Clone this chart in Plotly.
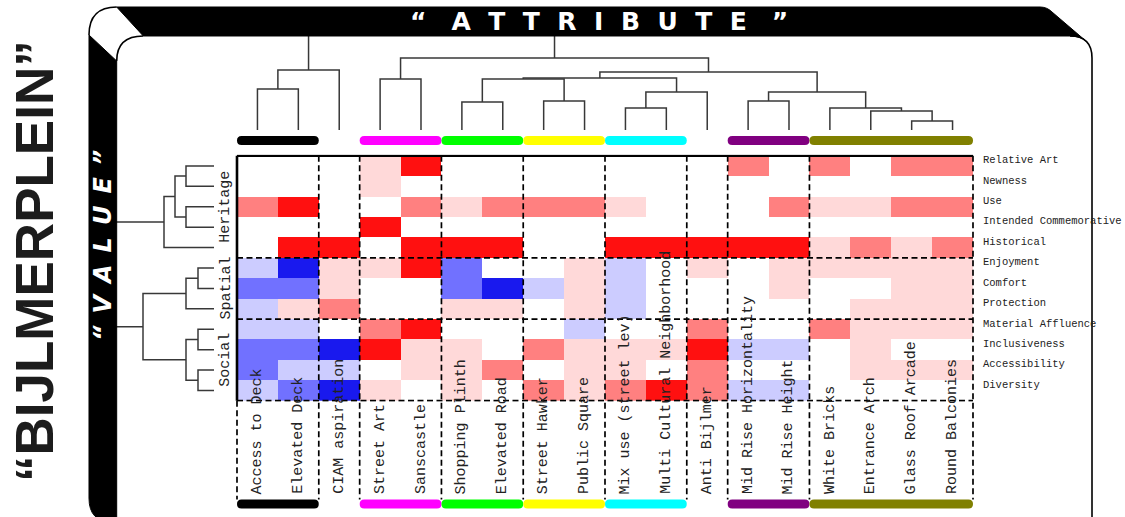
import plotly.graph_objects as go

W, H = 1125, 517

# ---------------------------------------------------------------- data
attributes = [
    "Access to Deck", "Elevated Deck", "CIAM aspiration", "Street Art", "Sanscastle",
    "Shopping Plinth", "Elevated Road", "Street Hawker", "Public Square",
    "Mix use (street lev)", "Multi Cultural Neighborhood", "Anti Bijlmer",
    "Mid Rise Horizontality", "Mid Rise Height", "White Bricks", "Entrance Arch",
    "Glass Roof Arcade", "Round Balconies",
]
values = [
    "Relative Art", "Newness", "Use", "Intended Commemorative", "Historical",
    "Enjoyment", "Comfort", "Protection", "Material Affluence", "Inclusiveness",
    "Accessibility", "Diversity",
]
# score of every value (row) for every attribute (column), -3 .. 3
scores = [
    [0, 0, 0, 1, 3, 0, 0, 0, 0, 0, 0, 0, 2, 0, 2, 0, 2, 2],
    [0, 0, 0, 1, 0, 0, 0, 0, 0, 0, 0, 0, 0, 0, 0, 0, 0, 0],
    [2, 3, 0, 0, 2, 1, 2, 2, 2, 1, 0, 0, 0, 2, 1, 1, 2, 2],
    [0, 0, 0, 3, 0, 0, 0, 0, 0, 0, 0, 0, 0, 0, 0, 0, 0, 0],
    [0, 3, 3, 0, 3, 3, 3, 0, 0, 3, 3, 3, 3, 3, 1, 2, 1, 2],
    [-1, -3, 1, 1, 3, -2, 0, 0, 1, -1, 0, 1, 0, 1, 1, 1, 1, 1],
    [-2, -2, 1, 0, 0, -2, -3, -1, 1, -1, 0, 0, 0, 1, 0, 0, 1, 1],
    [-1, 1, 2, 0, 0, 1, 1, 0, 1, -1, 0, 0, 0, 0, 0, 1, 1, 1],
    [-1, -1, 0, 2, 3, 0, 0, 0, -1, 0, 0, 2, 0, 0, 2, 1, 1, 1],
    [-2, -2, -3, 3, 1, 1, 0, 2, 1, 1, 1, 3, -1, -1, 0, 1, 0, 0],
    [-2, -1, -1, 0, 1, 1, 2, 0, 1, 1, 0, 2, 0, 0, 0, 1, 1, 1],
    [-1, -2, -3, 1, 0, 1, 0, 2, 1, 2, 3, 2, -1, -1, 0, 0, 0, 0],
]
score_colors = ["#1919ee", "#7171ff", "#ccccff", "#ffffff", "#ffd9d9", "#ff8080", "#ff1010"]

value_groups = [("Heritage", 0, 4), ("Spatial", 5, 7), ("Social", 8, 11)]
value_breaks = [5, 8, 12]                          # rows where a dashed rule starts
attribute_breaks = [0, 2, 3, 5, 7, 9, 11, 12, 14, 18]  # columns where a dashed rule starts
attribute_clusters = [
    (0, 1, "#000000"), (3, 4, "#ff00ff"), (5, 6, "#00ff00"), (7, 8, "#ffff00"),
    (9, 10, "#00ffff"), (12, 13, "#800080"), (14, 17, "#808000"),
]

# hierarchical merges (left id, right id, distance); ids >= n are earlier merges
attribute_linkage = [
    (16, 17, 0.9), (15, 18, 1.9), (14, 19, 2.2), (9, 10, 2.2), (5, 6, 2.8),
    (7, 8, 2.9), (12, 13, 2.9), (21, 11, 3.8), (24, 20, 3.8), (0, 1, 4.1),
    (22, 23, 5.1), (3, 4, 5.1), (28, 25, 5.2), (30, 26, 5.8), (27, 2, 6.0),
    (29, 31, 7.2), (32, 33, 12.0),
]
value_linkage = [
    (5, 6, 1.6), (8, 9, 1.6), (10, 11, 1.6), (0, 1, 2.8), (2, 3, 2.8),
    (12, 7, 2.8), (13, 14, 2.8), (15, 16, 3.9), (19, 4, 5.0), (17, 18, 7.1),
    (20, 21, 12.0),
]

# ---------------------------------------------------------------- layout frame (pixels)
HM_L, HM_R, HM_T, HM_B = 237.0, 973.0, 155.7, 400.7
PAD = 0.05
col_px = (HM_R - HM_L) / len(attributes)
row_px = (HM_B - HM_T) / len(values)
x_dom = [(HM_L - PAD * col_px) / W, (HM_R + PAD * col_px) / W]
y_dom = [1 - (HM_B + PAD * row_px) / H, 1 - (HM_T - PAD * row_px) / H]
TOP_LEAF, TOP_LIMIT = 130.0, 28.0      # top edge tucked behind the banner
LEFT_LEAF, LEFT_LIMIT = 214.0, 100.0   # left edge tucked behind the side band


def py(y):
    return 1 - y / H


def P(x, y):
    return f"{x / W:.5f},{1 - y / H:.5f}"


def dendro(linkage, n):
    pos = {i: float(i) for i in range(n)}
    hgt = {i: 0.0 for i in range(n)}
    xs, hs = [], []
    for k, (a, b, h) in enumerate(linkage):
        xs += [pos[a], pos[a], pos[b], pos[b], None]
        hs += [hgt[a], h, h, hgt[b], None]
        pos[n + k] = (pos[a] + pos[b]) / 2
        hgt[n + k] = h
    return xs, hs


fig = go.Figure()

# heatmap
cs = []
for i, c in enumerate(score_colors):
    cs += [[i / len(score_colors), c], [(i + 1) / len(score_colors), c]]
fig.add_trace(go.Heatmap(
    z=scores, x=list(range(len(attributes))), y=list(range(len(values))),
    colorscale=cs, zmin=-3.5, zmax=3.5, showscale=False, hoverinfo="skip",
    xgap=0, ygap=0,
))

# dendrograms
LINE = dict(color="#383838", width=1.5)
ax_x, ax_h = dendro(attribute_linkage, len(attributes))
fig.add_trace(go.Scatter(x=ax_x, y=ax_h, mode="lines", line=LINE, xaxis="x", yaxis="y2",
                         hoverinfo="skip", showlegend=False))
vx, vh = dendro(value_linkage, len(values))
fig.add_trace(go.Scatter(x=vh, y=vx, mode="lines", line=LINE, xaxis="x3", yaxis="y",
                         hoverinfo="skip", showlegend=False))

shapes = []
DASH = dict(color="black", width=1.7, dash="6px,3.5px")

# dashed block rules
for e in attribute_breaks:
    x = e - 0.5
    top = HM_B if e == 0 else HM_T
    shapes.append(dict(type="line", xref="x", yref="paper", x0=x, x1=x,
                       y0=py(top), y1=py(499.5), line=DASH, layer="above"))
for e in value_breaks:
    y = e - 0.5
    shapes.append(dict(type="line", xref="x", yref="y", x0=-0.5, x1=len(attributes) - 0.5,
                       y0=y, y1=y, line=DASH, layer="above"))
# solid top and left edges of the matrix
SOLID = dict(color="black", width=2.6)
shapes.append(dict(type="line", xref="x", yref="y", x0=-0.5, x1=len(attributes) - 0.5,
                   y0=-0.5, y1=-0.5, line=SOLID, layer="above"))
shapes.append(dict(type="line", xref="x", yref="y", x0=-0.5, x1=-0.5,
                   y0=-0.5, y1=len(values) - 0.5, line=SOLID, layer="above"))

# cluster colour bars (top and bottom), rounded ends
rx = 4.5 / col_px
for a, b, color in attribute_clusters:
    x0, x1 = a - 0.5, b + 0.5
    for y0p, y1p in [(136.0, 145.0), (499.5, 508.5)]:
        ym = (y0p + y1p) / 2
        t, m, bt = py(y0p), py(ym), py(y1p)
        path = (f"M{x0 + rx},{t} L{x1 - rx},{t} Q{x1},{t} {x1},{m} Q{x1},{bt} {x1 - rx},{bt} "
                f"L{x0 + rx},{bt} Q{x0},{bt} {x0},{m} Q{x0},{t} {x0 + rx},{t} Z")
        shapes.append(dict(type="path", xref="x", yref="paper", path=path,
                           fillcolor=color, line=dict(width=0), layer="above"))

# outer frame
shapes.append(dict(type="path", xref="paper", yref="paper",
                   path=f"M{P(116.7, 7)} L{P(1040, 7)} Q{P(1047, 7)} {P(1052, 12)} L{P(1086.5, 41.5)} "
                        f"Q{P(1081, 36)} {P(1070, 36)} L{P(143.3, 36)} Z",
                   fillcolor="black", line=dict(color="black", width=1), layer="above"))
shapes.append(dict(type="path", xref="paper", yref="paper",
                   path=f"M{P(89, 35)} L{P(116.7, 61)} L{P(116.7, 522)} L{P(112, 522)} "
                        f"Q{P(89, 522)} {P(89, 498)} Z",
                   fillcolor="black", line=dict(color="black", width=1), layer="above"))
for path in [f"M{P(89, 35)} Q{P(89, 7)} {P(116.7, 7)}",
             f"M{P(116.7, 61)} Q{P(116.7, 36)} {P(143.3, 36)}",
             f"M{P(1070, 36)} Q{P(1092, 36)} {P(1092, 58)} L{P(1092, 530)}"]:
    shapes.append(dict(type="path", xref="paper", yref="paper", path=path,
                       line=dict(color="black", width=1.6), layer="above"))

# ---------------------------------------------------------------- text
MONO = "Courier New, Liberation Mono, monospace"
TXT = "#222222"
ann = []
for i, name in enumerate(attributes):
    ann.append(dict(text=name, xref="x", x=i, yref="paper", y=py(496), textangle=-90,
                    xanchor="center", yanchor="bottom", showarrow=False,
                    font=dict(family=MONO, size=15, color=TXT)))
for i, name in enumerate(values):
    ann.append(dict(text=name, xref="paper", x=981 / W, yref="y", y=i - 0.28,
                    xanchor="left", yanchor="middle", showarrow=False,
                    font=dict(family=MONO, size=10.5, color=TXT)))
for name, a, b in value_groups:
    ann.append(dict(text=name, xref="paper", x=226 / W, yref="y", y=(a + b) / 2,
                    textangle=-90, xanchor="center", yanchor="middle", showarrow=False,
                    font=dict(family=MONO, size=15, color=TXT)))

ann.append(dict(text="\u201cBIJLMERPLEIN\u201d", xref="paper", yref="paper",
                x=34 / W, y=py(261), textangle=-90, showarrow=False,
                xanchor="center", yanchor="middle",
                font=dict(family="Liberation Sans, Arial, sans-serif", size=53,
                          color="#1c1c1c", weight="bold")))
gap = "\u2002\u2009"
ann.append(dict(text="\u201c\u2002\u2002" + gap.join("ATTRIBUTE") + "\u2002\u2002\u201d",
                xref="paper", yref="paper", x=599 / W, y=py(22), showarrow=False,
                xanchor="center", yanchor="middle",
                font=dict(family="DejaVu Sans", size=25, color="white", weight="bold")))
ann.append(dict(text="\u201c\u2002" + "\u2002".join("VALUE") + "\u2002\u201d",
                xref="paper", yref="paper", x=103 / W, y=py(246), textangle=-90,
                showarrow=False, xanchor="center", yanchor="middle",
                font=dict(family="DejaVu Sans", size=24, color="white", weight="bold",
                          style="italic")))

hidden = dict(visible=False, showgrid=False, zeroline=False, fixedrange=True)
fig.update_layout(
    width=W, height=H, margin=dict(l=0, r=0, t=0, b=0),
    paper_bgcolor="white", plot_bgcolor="rgba(0,0,0,0)",
    showlegend=False, hovermode=False,
    xaxis=dict(domain=x_dom, range=[-0.5 - PAD, len(attributes) - 0.5 + PAD], anchor="y", **hidden),
    yaxis=dict(domain=y_dom, range=[len(values) - 0.5 + PAD, -0.5 - PAD], anchor="x", **hidden),
    yaxis2=dict(domain=[py(TOP_LEAF), py(TOP_LIMIT)], range=[0, (TOP_LEAF - TOP_LIMIT) / 10],
                anchor="x", **hidden),
    xaxis3=dict(domain=[LEFT_LIMIT / W, LEFT_LEAF / W], range=[(LEFT_LEAF - LEFT_LIMIT) / 10, 0],
                anchor="y", **hidden),
    shapes=shapes, annotations=ann,
)

fig.write_html("out.html")
